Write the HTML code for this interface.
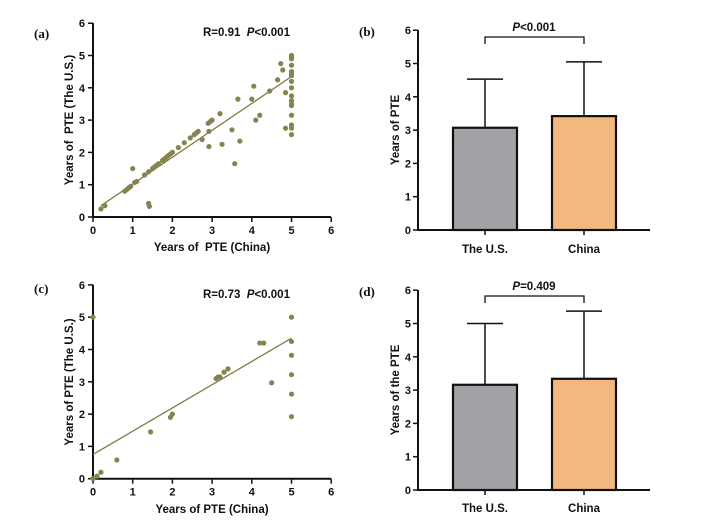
<!DOCTYPE html>
<html><head><meta charset="utf-8"><style>
html,body{margin:0;padding:0;background:#fff;}
svg{display:block;font-family:"Liberation Sans",Arial,sans-serif;}
text{white-space:pre;}
.t{font-size:11px;font-weight:bold;fill:#111;}
.l{font-size:11.5px;font-weight:bold;fill:#111;}
.pl{font-family:"Liberation Serif",serif;font-size:13px;font-weight:bold;fill:#111;}
</style></head><body>
<svg id="s" width="714" height="524" viewBox="0 0 714 524" xmlns="http://www.w3.org/2000/svg">
<rect width="714" height="524" fill="#fff"/>
<text class="pl" x="34" y="38">(a)</text>
<text class="pl" x="34" y="293">(c)</text>
<text class="pl" x="359" y="36">(b)</text>
<text class="pl" x="359" y="296">(d)</text>
<text class="l" x="203" y="36">R=0.91  <tspan font-style="italic">P</tspan>&lt;0.001</text>
<text class="l" x="203" y="298">R=0.73  <tspan font-style="italic">P</tspan>&lt;0.001</text>
<text class="l" x="212" y="251" text-anchor="middle">Years of  PTE (China)</text>
<text class="l" x="212" y="513" text-anchor="middle">Years of PTE (China)</text>
<text class="l" transform="translate(73,120) rotate(-90)" text-anchor="middle">Years of  PTE (The U.S.)</text>
<text class="l" transform="translate(73,382) rotate(-90)" text-anchor="middle">Years of PTE (The U.S.)</text>
<text class="l" transform="translate(399,130) rotate(-90)" text-anchor="middle">Years of PTE</text>
<text class="l" transform="translate(399,390) rotate(-90)" text-anchor="middle">Years of the PTE</text>
<text class="l" x="534" y="31" text-anchor="middle"><tspan font-style="italic">P</tspan>&lt;0.001</text>
<text class="l" x="534" y="290" text-anchor="middle"><tspan font-style="italic">P</tspan>=0.409</text>
<text class="l" x="485" y="253" text-anchor="middle">The U.S.</text>
<text class="l" x="584" y="253" text-anchor="middle">China</text>
<text class="l" x="485" y="512" text-anchor="middle">The U.S.</text>
<text class="l" x="584" y="512" text-anchor="middle">China</text>
</svg>
<script>
var s=document.getElementById('s'),NS='http://www.w3.org/2000/svg';
function el(n,a){var e=document.createElementNS(NS,n);for(var k in a)e.setAttribute(k,a[k]);s.appendChild(e);return e;}
function txt(x,y,t,anc){var e=el('text',{x:x,y:y,'class':'t','text-anchor':anc});e.textContent=t;}
function scatter(y0,pts,l){
 var X=function(v){return 93+v*39.7},Y=function(v){return y0-v*32.3};
 el('path',{d:'M93 '+(y0-194)+'V'+y0+'H331',stroke:'#111','stroke-width':2,fill:'none'});
 for(var i=0;i<=6;i++){el('line',{x1:88,x2:93,y1:Y(i),y2:Y(i),stroke:'#111','stroke-width':1.5});txt(85,Y(i)+4,i,'end');
  el('line',{x1:X(i),x2:X(i),y1:y0,y2:y0+5,stroke:'#111','stroke-width':1.5});txt(X(i),y0+17,i,'middle');}
 el('line',{x1:X(l[0]),y1:Y(l[1]),x2:X(l[2]),y2:Y(l[3]),stroke:'#7d7a45','stroke-width':1.3});
 pts.forEach(function(p){el('circle',{cx:X(p[0]),cy:Y(p[1]),r:2.6,fill:'#85834e'});});
}
var a=[[0.2,0.25],[0.3,0.35],[0.8,0.8],[0.85,0.85],[0.9,0.9],[0.95,0.95],[1.0,1.5],[1.05,1.07],[1.1,1.1],[1.3,1.3],[1.4,1.4],[1.4,0.42],[1.42,0.33],[1.5,1.5],[1.55,1.55],[1.6,1.6],[1.65,1.65],[1.75,1.75],[1.8,1.8],[1.85,1.85],[1.9,1.9],[1.95,1.95],[2.0,2.0],[2.15,2.15],[2.3,2.3],[2.45,2.45],[2.55,2.55],[2.6,2.6],[2.65,2.65],[2.75,2.4],[2.9,2.9],[2.92,2.65],[2.92,2.18],[2.95,2.95],[3.0,3.0],[3.2,3.2],[3.25,2.25],[3.5,2.7],[3.57,1.65],[3.65,3.65],[3.7,2.35],[4.0,3.65],[4.05,4.05],[4.1,3.0],[4.2,3.15],[4.45,3.9],[4.65,4.25],[4.73,4.75],[4.78,4.55],[4.85,3.85],[4.85,2.75]];
[5,4.95,4.9,4.7,4.5,4.45,4.38,4.2,4.0,3.75,3.6,3.5,3.45,3.15,2.85,2.75,2.55].forEach(function(v){a.push([5,v]);});
scatter(217,a,[0.2,0.35,5,4.35]);
scatter(478.7,[[0,5],[0,0],[0.1,0.08],[0.2,0.2],[0.6,0.58],[1.45,1.45],[1.95,1.9],[2.0,2.0],[3.1,3.1],[3.15,3.15],[3.2,3.15],[3.3,3.3],[3.4,3.4],[4.2,4.2],[4.3,4.2],[4.5,2.97],[5,5],[5,4.25],[5,3.82],[5,3.22],[5,2.62],[5,1.92]],[0,0.75,5,4.35]);
function bars(y0,v1,e1,v2,e2,by){
 var Y=function(v){return y0-v*33.3};
 el('path',{d:'M418 '+(y0-200)+'V'+y0+'H650',stroke:'#111','stroke-width':2,fill:'none'});
 for(var i=0;i<=6;i++){el('line',{x1:413,x2:418,y1:Y(i),y2:Y(i),stroke:'#111','stroke-width':1.5});txt(411,Y(i)+4,i,'end');}
 [[485,v1,e1,'#a2a2a6'],[584,v2,e2,'#f2b880']].forEach(function(b){
  el('line',{x1:b[0],x2:b[0],y1:Y(b[2]),y2:Y(b[1]),stroke:'#111','stroke-width':1.5});
  el('line',{x1:b[0]-18,x2:b[0]+18,y1:Y(b[2]),y2:Y(b[2]),stroke:'#111','stroke-width':1.5});
  el('rect',{x:b[0]-32,y:Y(b[1]),width:64,height:b[1]*33.3,fill:b[3],stroke:'#111','stroke-width':2.2});
  el('line',{x1:b[0],x2:b[0],y1:y0,y2:y0+5,stroke:'#111','stroke-width':1.5});
 });
 el('path',{d:'M485 '+(by+7)+'V'+by+'H584V'+(by+7),stroke:'#111','stroke-width':1.3,fill:'none'});
}
bars(230,3.07,4.53,3.42,5.05,37);
bars(490,3.16,5.0,3.34,5.37,296);
</script>
</body></html>
